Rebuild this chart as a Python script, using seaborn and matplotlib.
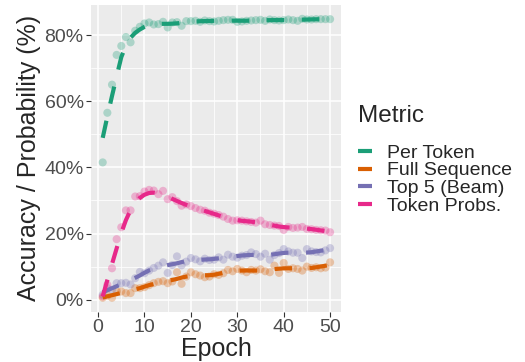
import numpy as np
import pandas as pd
import matplotlib
matplotlib.use("Agg")
import matplotlib.pyplot as plt
from matplotlib.lines import Line2D
from matplotlib.ticker import FuncFormatter, MultipleLocator
import seaborn as sns

# values (percent)
epochs = list(range(1, 51))
metrics = ["Per Token", "Full Sequence", "Top 5 (Beam)", "Token Probs."]

per_token = [41.5, 56.5, 65.0, 74.0, 76.7, 79.4, 77.8, 81.3, 82.5, 83.5,
             83.8, 83.2, 83.3, 84.0, 82.3, 83.8, 83.9, 82.8, 84.2, 84.2,
             84.3, 84.0, 84.4, 84.2, 84.1, 84.3, 84.5, 84.6, 84.6, 84.0,
             84.1, 84.3, 84.4, 84.5, 84.6, 84.3, 84.7, 84.5, 84.4, 84.5,
             84.7, 84.5, 84.3, 84.9, 84.7, 84.7, 84.8, 84.8, 84.8, 84.8]
full_sequence = [0.6, 1.2, 0.6, 2.5, 2.5, 2.0, 2.0, 3.5, 3.5, 3.8,
                 4.4, 5.0, 5.4, 5.6, 5.0, 5.5, 8.3, 4.8, 7.0, 8.3,
                 7.7, 7.3, 6.8, 7.0, 7.7, 7.5, 8.0, 9.0, 8.6, 9.3,
                 8.8, 8.3, 9.0, 8.8, 9.2, 8.6, 8.3, 10.3, 8.1, 11.1,
                 9.3, 9.5, 9.3, 8.8, 10.0, 9.6, 9.8, 9.5, 9.7, 11.3]
top5_beam = [1.5, 3.5, 3.0, 5.0, 5.0, 5.1, 4.6, 6.5, 8.4, 8.0,
             8.8, 9.6, 10.3, 11.3, 8.1, 10.5, 13.1, 10.4, 11.5, 12.6,
             12.2, 11.6, 12.4, 12.0, 12.1, 12.8, 12.1, 13.6, 13.0, 12.7,
             13.3, 13.5, 14.3, 13.8, 13.0, 13.9, 12.1, 13.5, 14.1, 15.3,
             14.6, 14.2, 14.2, 12.6, 15.3, 14.6, 14.4, 14.3, 14.9, 15.6]
token_probs = [1.0, 4.5, 9.5, 18.3, 21.9, 27.0, 27.0, 31.2, 31.3, 32.7,
               33.2, 33.0, 31.9, 32.9, 30.4, 31.0, 29.8, 28.4, 28.8, 28.3,
               27.7, 27.2, 26.9, 26.3, 26.0, 25.6, 25.1, 24.4, 23.9, 24.0,
               23.9, 23.7, 23.5, 23.3, 23.9, 22.8, 22.6, 22.4, 22.3, 21.1,
               22.0, 21.7, 21.8, 22.0, 21.4, 21.3, 21.1, 21.0, 20.9, 20.4]

palette = dict(zip(metrics, sns.color_palette("Dark2", 4)))


def loess(x, y, frac=0.2):
    # local linear fit with tricube weights
    x = np.asarray(x, float)
    y = np.asarray(y, float)
    k = int(np.ceil(frac * len(x)))
    out = np.empty_like(y)
    for i, x0 in enumerate(x):
        d = np.abs(x - x0)
        h = np.sort(d)[k - 1] * 1.0001
        w = np.clip(1 - (d / h) ** 3, 0, None) ** 3
        W = np.sqrt(w)
        A = np.vstack([np.ones_like(x), x - x0]).T
        coef, *_ = np.linalg.lstsq(A * W[:, None], y * W, rcond=None)
        out[i] = coef[0]
    return out


series = [per_token, full_sequence, top5_beam, token_probs]
df = pd.concat([pd.DataFrame({"Epoch": epochs, "Value": v, "Metric": m})
                for m, v in zip(metrics, series)], ignore_index=True)
df["Smooth"] = np.concatenate([loess(epochs, v) for v in series])

sns.set_theme(style="darkgrid")
plt.rcParams.update({
    "font.family": ["Liberation Sans", "DejaVu Sans"],
    "axes.facecolor": "#EBEBEB",
    "grid.color": "white",
    "lines.dashed_pattern": [4.2, 4.2],
})

fig = plt.figure(figsize=(5.25, 3.62), dpi=100)
ax = fig.add_axes([0.174, 0.139, 0.4764, 0.847])

sns.scatterplot(data=df, x="Epoch", y="Value", hue="Metric", palette=palette,
                alpha=0.3, s=34, linewidth=0, legend=False, ax=ax, zorder=3)
sns.lineplot(data=df, x="Epoch", y="Smooth", hue="Metric", palette=palette,
             linewidth=3.0, linestyle="--", legend=False, ax=ax, zorder=4)

ax.set_xlim(-1.45, 52.45)
ax.set_ylim(-3.62, 89.06)
ax.xaxis.set_major_locator(MultipleLocator(10))
ax.xaxis.set_minor_locator(MultipleLocator(5))
ax.yaxis.set_major_locator(MultipleLocator(20))
ax.yaxis.set_minor_locator(MultipleLocator(10))
ax.yaxis.set_major_formatter(FuncFormatter(lambda v, p: f"{v:.0f}%"))
ax.grid(which="major", color="white", linewidth=1.1)
ax.grid(which="minor", color="white", linewidth=0.55)
for s in ax.spines.values():
    s.set_visible(False)
ax.tick_params(which="major", length=3.5, width=0.8, color="#333333",
               labelsize=14, labelcolor="#4D4D4D", pad=2, bottom=True, left=True)
ax.tick_params(which="minor", length=0)

ax.set_xlabel("Epoch", fontsize=18)
ax.set_ylabel("Accuracy / Probability (%)", fontsize=18)
ax.xaxis.set_label_coords(0.5, -0.083)
ax.yaxis.set_label_coords(-0.2, 0.5)

handles = [Line2D([], [], color=palette[m], linewidth=3.0, solid_capstyle="butt")
           for m in metrics]
leg = fig.legend(handles, metrics, title="Metric", loc="upper left",
                 bbox_to_anchor=(348 / 525, 1 - 95 / 362), frameon=False,
                 fontsize=14, title_fontsize=17.5, handlelength=0.75,
                 handletextpad=0.75, labelspacing=0.0, borderpad=0)
leg._legend_box.align = "left"
leg._legend_box.sep = 12.5

fig.savefig("out.png", dpi=100)
